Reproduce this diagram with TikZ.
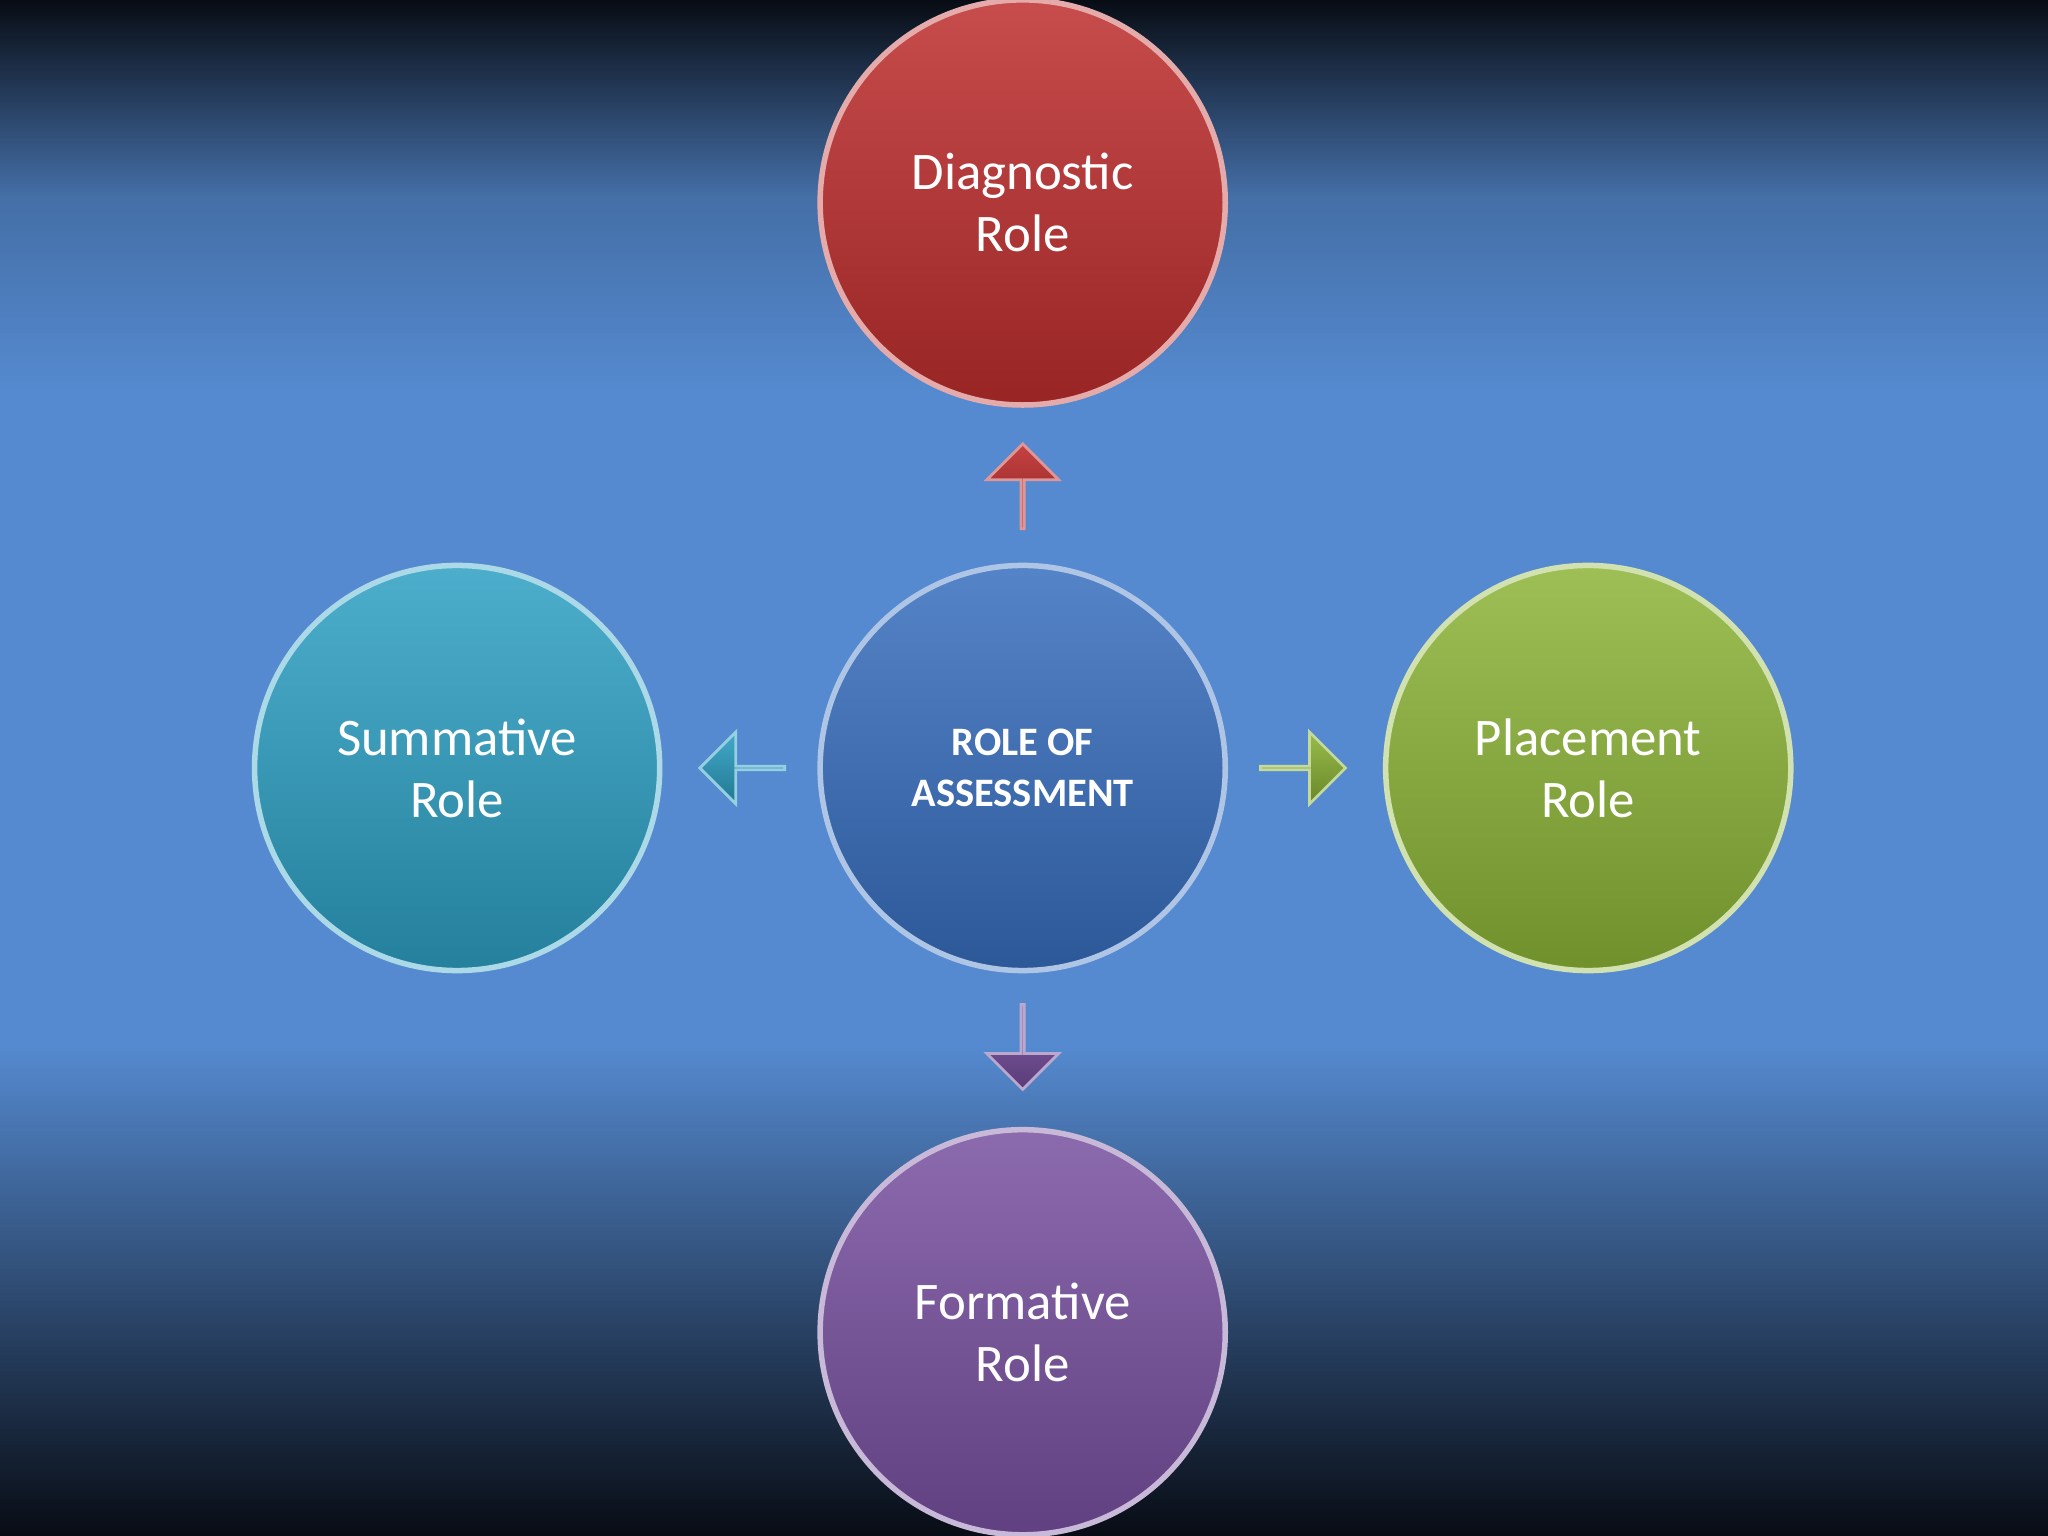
\documentclass[tikz,border=0pt]{standalone}
\usepackage{fontspec}
\setmainfont{Carlito}
\usetikzlibrary{shapes.arrows}
\definecolor{cbg}{RGB}{85,138,208}
\definecolor{cdark}{RGB}{8,12,20}
\definecolor{cred}{RGB}{190,45,45}
\definecolor{cblue}{RGB}{55,110,190}
\definecolor{cteal}{RGB}{45,160,195}
\definecolor{cgreen}{RGB}{140,180,55}
\definecolor{cpurple}{RGB}{120,80,160}

\tikzset{
  role/.style={circle, minimum size=3.1cm, inner sep=0pt, line width=1.2pt,
    draw=#1!40!white, top color=#1!85!white, bottom color=#1!80!black,
    text=white, align=center, font=\fontsize{11.5}{13.5}\selectfont},
  pointer/.style={single arrow, single arrow head extend=0.22cm, minimum width=0.55cm,
    minimum height=0.65cm, inner sep=0pt, draw=#1!50!white, line width=0.6pt,
    top color=#1!90!white, bottom color=#1!75!black}
}

\begin{document}
\begin{tikzpicture}[x=0.01cm, y=-0.01cm]
  \shade[top color=cdark, bottom color=cbg, middle color=cbg!80!black]
    (0,0) rectangle (1568,300);
  \fill[cbg] (0,300) rectangle (1568,800);
  \shade[top color=cbg, bottom color=cdark] (0,800) rectangle (1568,1176);
  \useasboundingbox (0,0) rectangle (1568,1176);

  \node[role=cblue, font=\bfseries\fontsize{8.8}{11}\selectfont] (core) at (783,588) {ROLE OF\\ASSESSMENT};
  \node[role=cred] (diag) at (783,155) {Diagnostic\\Role};
  \node[role=cteal] (summ) at (350,588) {Summative\\Role};
  \node[role=cgreen] (place) at (1216,588) {Placement\\Role};
  \node[role=cpurple] (form) at (783,1020) {Formative\\Role};

  \node[pointer=cred, shape border rotate=90] (upArrow) at (783,373) {};
  \node[pointer=cteal, shape border rotate=180] (leftArrow) at (569,588) {};
  \node[pointer=cgreen] (rightArrow) at (997,588) {};
  \node[pointer=cpurple, shape border rotate=270] (downArrow) at (783,801) {};
\end{tikzpicture}
\end{document}
